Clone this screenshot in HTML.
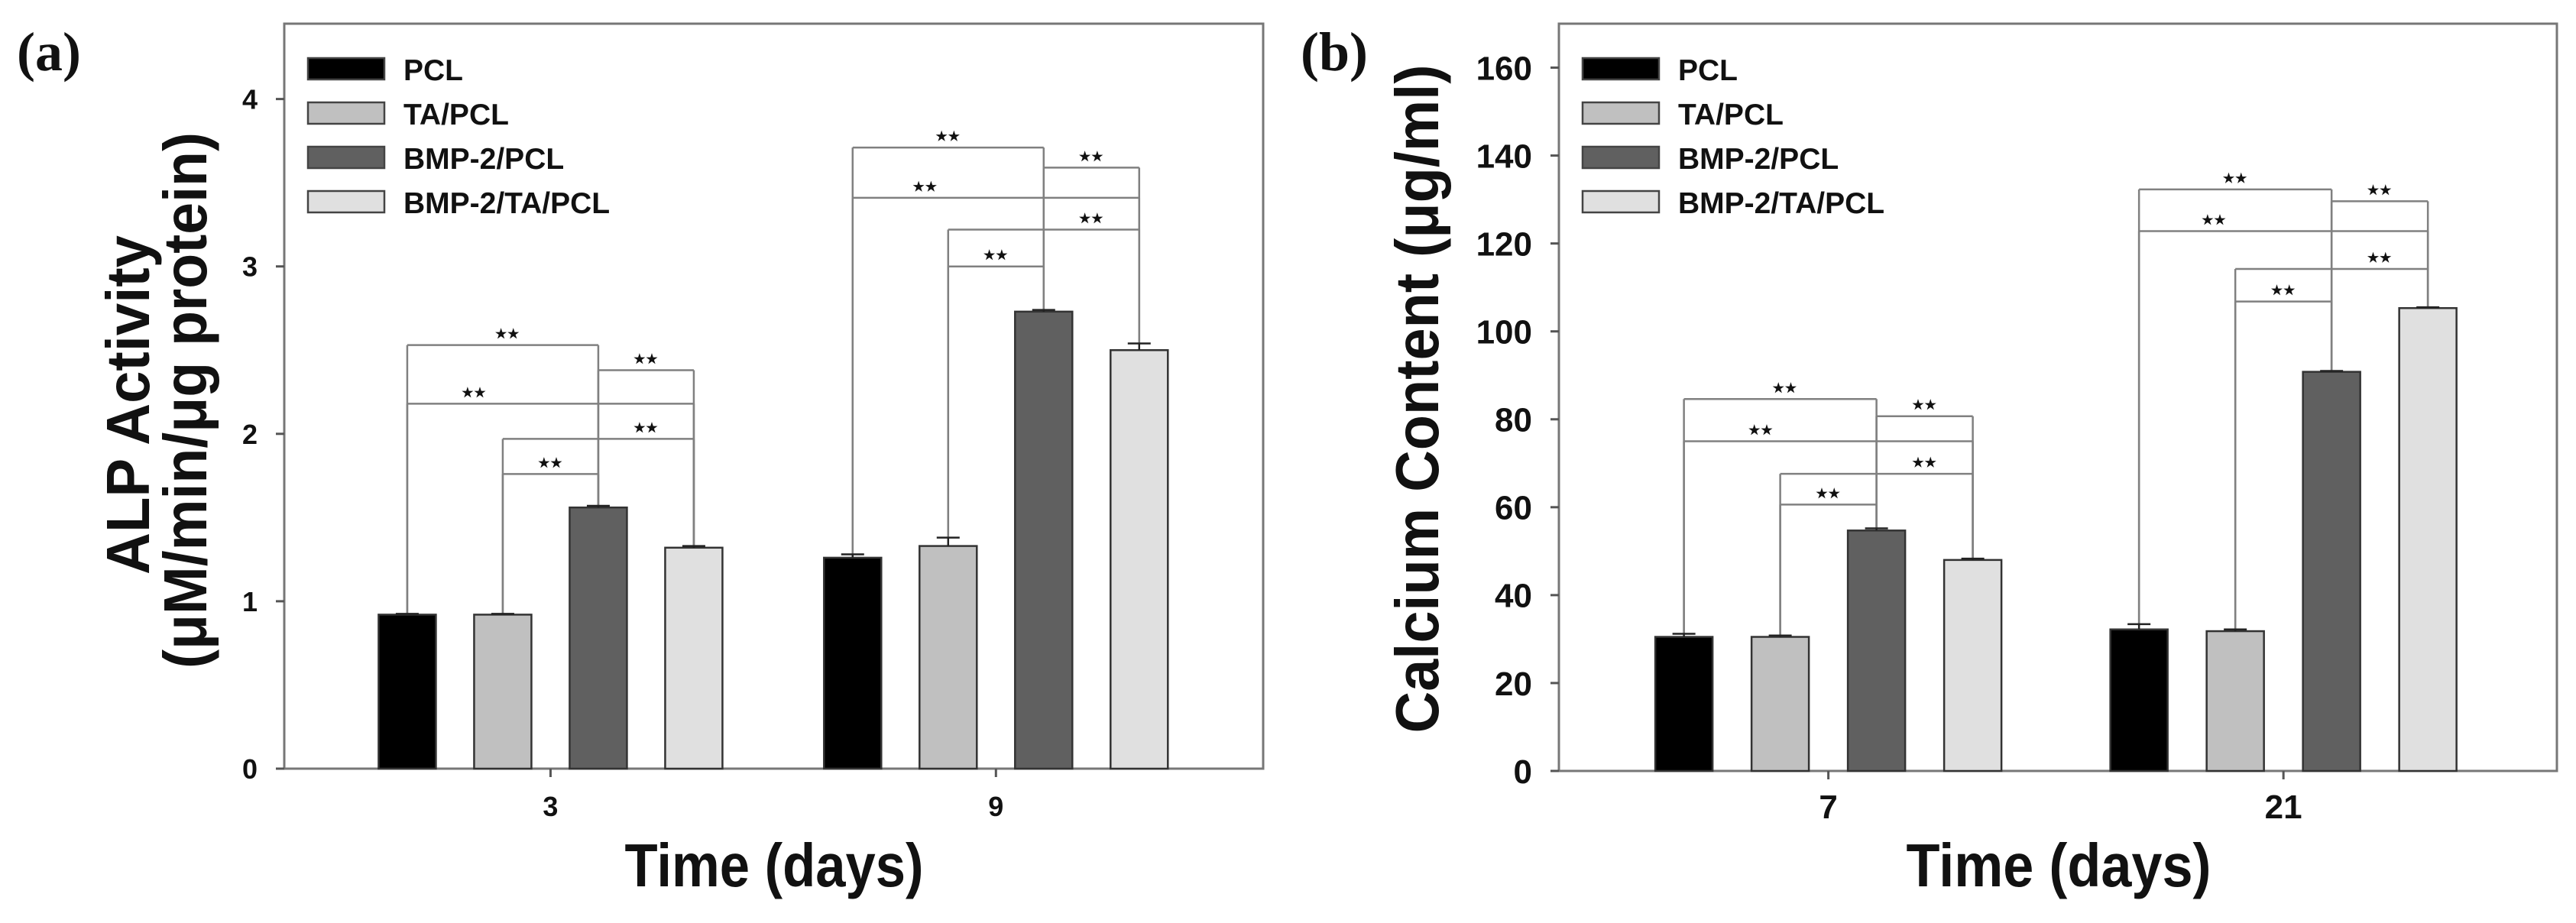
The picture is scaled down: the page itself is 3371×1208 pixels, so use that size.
<!DOCTYPE html>
<html><head><meta charset="utf-8"><style>
html,body{margin:0;padding:0;background:#fff;}
svg{display:block;}
text{font-family:"Liberation Sans",Arial,sans-serif;font-weight:bold;fill:#111;}
.serif{font-family:"Liberation Serif",serif;}
</style></head><body>
<svg id="fig" width="3371" height="1208" viewBox="0 0 3371 1208" xmlns="http://www.w3.org/2000/svg"></svg>
<script>
const seriesNames = ["PCL","TA/PCL","BMP-2/PCL","BMP-2/TA/PCL"];
const seriesColors = ["#000000","#c0c0c0","#606060","#e0e0e0"];
// Panel (a)
const catsA = ["3","9"];
const valsA = [[0.92,0.92,1.56,1.32],[1.26,1.33,2.73,2.50]];
const errA = [[0.005,0.005,0.01,0.01],[0.02,0.05,0.01,0.04]];
const ticksA = [0,1,2,3,4];
const brA = [[0,0,2,2.53,1.05],[0,2,3,2.38,2.5],[0,0,3,2.18,0.7],[0,1,3,1.97,2.5],[0,1,2,1.76,1.5],
             [1,0,2,3.71,1.0],[1,2,3,3.59,2.5],[1,0,3,3.41,0.76],[1,1,3,3.22,2.5],[1,1,2,3.00,1.5]];
// Panel (b)
const catsB = ["7","21"];
const valsB = [[30.5,30.5,54.7,48.0],[32.2,31.8,90.8,105.3]];
const errB = [[0.7,0.3,0.5,0.3],[1.2,0.4,0.2,0.2]];
const ticksB = [0,20,40,60,80,100,120,140,160];
const brB = [[0,0,2,84.6,1.05],[0,2,3,80.7,2.5],[0,0,3,75.0,0.8],[0,1,3,67.6,2.5],[0,1,2,60.6,1.5],
             [1,0,2,132.3,1.0],[1,2,3,129.6,2.5],[1,0,3,122.8,0.78],[1,1,3,114.2,2.5],[1,1,2,106.8,1.5]];

const NS="http://www.w3.org/2000/svg";
const svg=document.getElementById('fig');
function mk(tag,attrs,parent){const e=document.createElementNS(NS,tag);for(const k in attrs)e.setAttribute(k,attrs[k]);(parent||svg).appendChild(e);return e;}

function panel(P){
  const g=mk('g',{});
  
  
  const y=v=>P.y0-(v-P.ymin)/(P.ymax-P.ymin)*(P.y0-P.top);
  const cx=i=>P.left+P.catFrac[i]*(P.right-P.left);
  const barX=(c,s)=>cx(c)+(s-1.5)*P.pitch;
  // frame
  const fr=mk('rect',{x:P.left,y:P.top,width:P.right-P.left,height:P.y0-P.top,fill:'none',stroke:'#777','stroke-width':3},g);
  
  
  // y ticks
  P.ticks.forEach(t=>{
    const l=mk('line',{x1:P.left-11,x2:P.left,y1:y(t),y2:y(t),stroke:'#555','stroke-width':3},g);
    
    
    const tx=mk('text',{x:P.left-35,y:y(t)+P.tickFs*0.36,'text-anchor':'end','font-size':P.tickFs},g);
    
    
    tx.textContent=t;
  });
  // x ticks
  P.cats.forEach((c,i)=>{
    const l=mk('line',{x1:cx(i),x2:cx(i),y1:P.y0,y2:P.y0+11,stroke:'#555','stroke-width':3},g);
    
    
    const tx=mk('text',{x:cx(i),y:P.y0+62,'text-anchor':'middle','font-size':P.tickFs},g);
    
    
    tx.textContent=c;
  });
  // brackets (behind bars)
  P.br.forEach(b=>{
    const [c,s1,s2,v,sp]=b;
    const xa=barX(c,s1),xb=barX(c,s2),yy=y(v);
    const bg=mk('g',{},g);
    
    
    mk('line',{x1:xa,x2:xb,y1:yy,y2:yy,stroke:'#808080','stroke-width':2.5},bg);
    [[xa,s1],[xb,s2]].forEach(([xx,s])=>{
      mk('line',{x1:xx,x2:xx,y1:yy,y2:y(P.vals[c][s]+P.err[c][s]),stroke:'#808080','stroke-width':2.5},bg);
    });
    const st=mk('text',{x:barX(c,0)+sp*P.pitch,y:yy-9,'text-anchor':'middle','font-size':17,'letter-spacing':1},bg);
    
    
    st.textContent='★★';
  });
  // bars
  P.vals.forEach((row,c)=>row.forEach((v,s)=>{
    const r=mk('rect',{x:barX(c,s)-P.bw/2,y:y(v),width:P.bw,height:P.y0-y(v),fill:seriesColors[s],stroke:'#333','stroke-width':2.5},g);
    
    
    const e=P.err[c][s];
    const eg=mk('g',{},g);
    
    
    mk('line',{x1:barX(c,s),x2:barX(c,s),y1:y(v),y2:y(v+e),stroke:'#222','stroke-width':2.5},eg);
    mk('line',{x1:barX(c,s)-15,x2:barX(c,s)+15,y1:y(v+e),y2:y(v+e),stroke:'#222','stroke-width':2.5},eg);
  }));
  // legend
  seriesNames.forEach((n,i)=>{
    const lg=mk('g',{},g);
    
    
    const yy=P.legY+i*58;
    mk('rect',{x:P.legX,y:yy,width:100,height:28,fill:seriesColors[i],stroke:'#444','stroke-width':2.5},lg);
    const t=mk('text',{x:P.legX+125,y:yy+29,'font-size':39},lg);
    t.textContent=n;
  });
  // titles
  const xt=mk('text',{x:P.xtX,y:1160,'text-anchor':'middle','font-size':80,textLength:P.xtLen,lengthAdjust:'spacingAndGlyphs'},g);
  
  
  xt.textContent='Time (days)';
  P.ytitles.forEach(yt=>{
    const t=mk('text',{x:0,y:0,'text-anchor':'middle','font-size':yt.fs,textLength:yt.len,lengthAdjust:'spacingAndGlyphs',transform:`translate(${yt.bx},${yt.cy}) rotate(-90)`},g);
    
    
    t.textContent=yt.text;
  });
  const pl=mk('text',{x:P.plX,y:92,'font-size':72,'class':'serif'},g);
  
  
  pl.textContent=P.label;
}

panel({name:'panel-a-alp',label:'(a)',plX:22,left:372,right:1653,top:31,y0:1006,ymin:0,ymax:4.45,
  catFrac:[0.272,0.727],pitch:125,bw:75,cats:catsA,vals:valsA,err:errA,ticks:ticksA,br:brA,tickFs:36,
  legX:403,legY:76,xtX:1013,xtLen:391,
  ytitles:[{text:'ALP Activity',bx:195,cy:530,fs:80,len:444},{text:'(μM/min/μg protein)',bx:270,cy:524,fs:80,len:702}]});
panel({name:'panel-b-calcium',label:'(b)',plX:1702,left:2040,right:3346,top:31,y0:1009,ymin:0,ymax:170,
  catFrac:[0.27,0.726],pitch:126,bw:75,cats:catsB,vals:valsB,err:errB,ticks:ticksB,br:brB,tickFs:44,
  legX:2071,legY:76,xtX:2694,xtLen:399,
  ytitles:[{text:'Calcium Content (μg/ml)',bx:1882,cy:522,fs:80,len:875}]});
</script>
</body></html>
